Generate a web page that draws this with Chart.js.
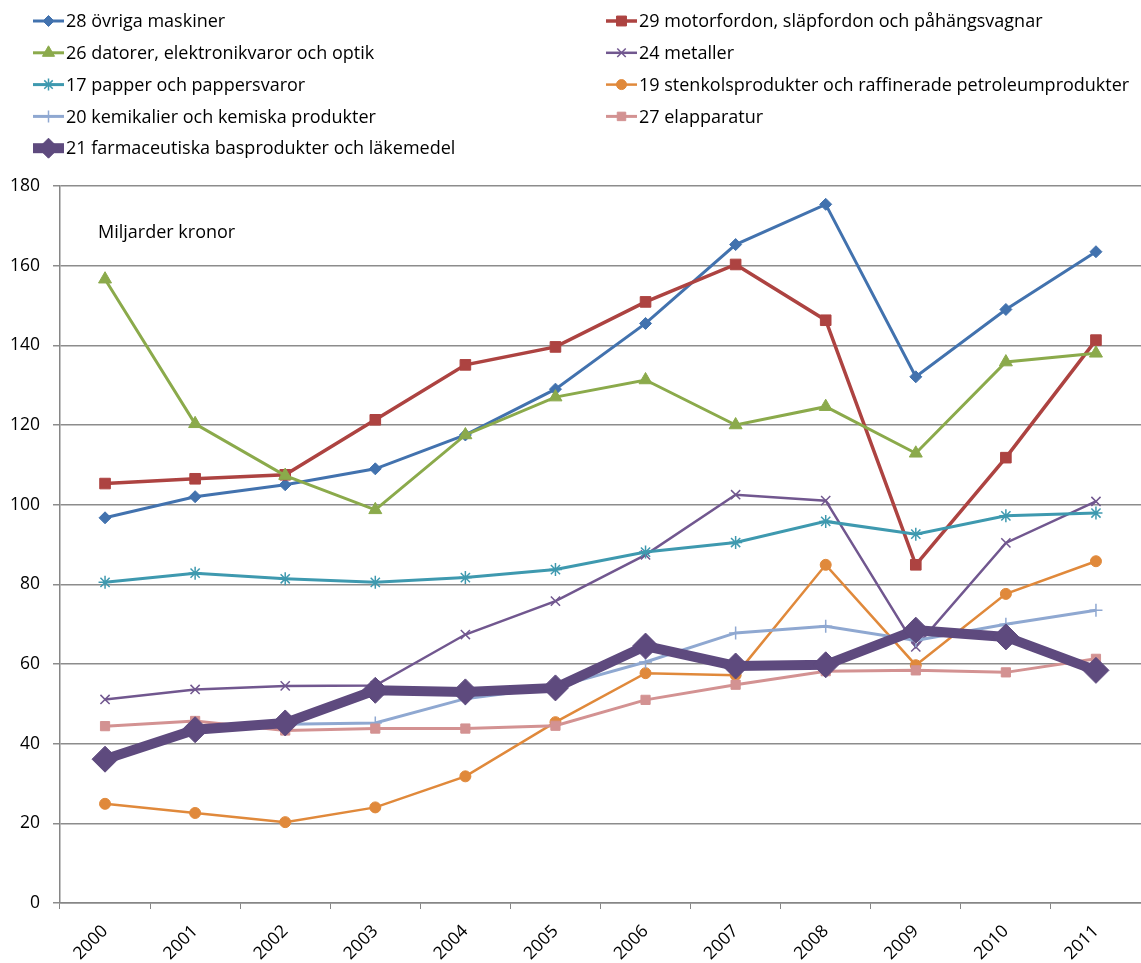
<!DOCTYPE html>
<html>
<head>
<meta charset="utf-8">
<script src="https://cdn.jsdelivr.net/npm/chart.js@4.4.0/dist/chart.umd.min.js"></script>
<style>
  html, body { margin: 0; padding: 0; background: #fff; }
  #wrap { width: 1141px; height: 963px; }
</style>
</head>
<body>
<div id="wrap"><canvas id="lineChart" width="1141" height="963"></canvas></div>
<script>
'use strict';

var years = ['2000','2001','2002','2003','2004','2005','2006','2007','2008','2009','2010','2011'];
var yTicks = [0, 20, 40, 60, 80, 100, 120, 140, 160, 180];

var maskiner   = [96.7, 102.0, 105.0, 109.0, 117.5, 129.0, 145.5, 165.3, 175.4, 132.1, 149.0, 163.5];
var motorfordon= [105.3, 106.5, 107.5, 121.3, 135.1, 139.6, 150.9, 160.3, 146.3, 84.9, 111.8, 141.3];
var datorer    = [156.6, 120.3, 107.3, 98.7, 117.5, 127.0, 131.3, 120.0, 124.6, 112.9, 135.8, 138.0];
var metaller   = [51.1, 53.6, 54.5, 54.6, 67.4, 75.8, 87.4, 102.5, 101.0, 64.3, 90.4, 100.8];
var papper     = [80.5, 82.8, 81.4, 80.5, 81.7, 83.7, 88.1, 90.5, 95.8, 92.6, 97.2, 97.9];
var stenkol    = [24.9, 22.6, 20.3, 24.0, 31.8, 45.4, 57.7, 57.2, 84.9, 59.7, 77.6, 85.8];
var kemikalier = [36.5, 43.8, 44.9, 45.2, 51.3, 54.2, 60.5, 67.8, 69.5, 65.9, 70.0, 73.5];
var elapparatur= [44.4, 45.7, 43.3, 43.8, 43.8, 44.5, 51.0, 54.8, 58.2, 58.4, 57.9, 61.3];
var farmaci    = [36.1, 43.5, 45.2, 53.4, 53.0, 54.0, 64.5, 59.5, 59.8, 68.5, 66.8, 58.4];

// legend layout: col / row in the two-column legend
var series = [
  { label: '28 övriga maskiner', data: maskiner, color: '#4272AE', style: 'rectRot', r: 6, w: 3, col: 0, row: 0 },
  { label: '29 motorfordon, släpfordon och påhängsvagnar', data: motorfordon, color: '#AD4341', style: 'rect', r: 7.5, w: 3.5, col: 1, row: 0 },
  { label: '26 datorer, elektronikvaror och optik', data: datorer, color: '#8BAA4B', style: 'triangle', r: 7.5, w: 3, col: 0, row: 1 },
  { label: '24 metaller', data: metaller, color: '#71578F', style: 'crossRot', r: 6.5, w: 2.5, col: 1, row: 1 },
  { label: '17 papper och pappersvaror', data: papper, color: '#3E99AF', style: 'star', r: 6.5, w: 3, col: 0, row: 2 },
  { label: '19 stenkolsprodukter och raffinerade petroleumprodukter', data: stenkol, color: '#E0893B', style: 'circle', r: 5.5, w: 2.5, col: 1, row: 2 },
  { label: '20 kemikalier och kemiska produkter', data: kemikalier, color: '#8FA8D1', style: 'cross', r: 6.5, w: 3, col: 0, row: 3 },
  { label: '27 elapparatur', data: elapparatur, color: '#D39292', style: 'rect', r: 6.5, w: 3, col: 1, row: 3 },
  { label: '21 farmaceutiska basprodukter och läkemedel', data: farmaci, color: '#5E4A7E', style: 'rectRot', r: 13, w: 10, col: 0, row: 4 }
];

var FONT = '"Open Sans", "Liberation Sans", sans-serif';

function isFilled(style) {
  return style !== 'cross' && style !== 'crossRot' && style !== 'star';
}

var datasets = series.map(function (s, i) {
  return {
    label: s.label,
    data: s.data,
    borderColor: s.color,
    backgroundColor: s.color,
    borderWidth: s.w,
    pointStyle: s.style,
    pointRadius: s.r,
    pointHoverRadius: s.r,
    pointBackgroundColor: s.color,
    pointBorderColor: s.color,
    pointBorderWidth: isFilled(s.style) ? 1 : 1.5,
    tension: 0,
    order: series.length - 1 - i
  };
});

var legendPlugin = {
  id: 'twoColLegend',
  afterDraw: function (chart) {
    var ctx = chart.ctx;
    ctx.save();
    series.forEach(function (s) {
      var x0 = s.col === 0 ? 33 : 606;
      var y = 21 + s.row * 31.8;
      ctx.strokeStyle = s.color;
      ctx.fillStyle = s.color;
      ctx.lineWidth = s.w;
      ctx.beginPath();
      ctx.moveTo(x0, y);
      ctx.lineTo(x0 + 31, y);
      ctx.stroke();
      ctx.lineWidth = isFilled(s.style) ? 1 : 1.5;
      var r = s.r > 10 ? 10 : s.r - 0.5;
      Chart.helpers.drawPoint(ctx, { pointStyle: s.style, rotation: 0, radius: r, borderWidth: ctx.lineWidth }, x0 + 15.5, y);
      ctx.fillStyle = '#000';
      ctx.font = '18px ' + FONT;
      ctx.textBaseline = 'middle';
      ctx.textAlign = 'left';
      ctx.fillText(s.label, x0 + 33, y + 1);
    });
    // unit text inside the plot
    ctx.fillStyle = '#000';
    ctx.font = '18px ' + FONT;
    ctx.textBaseline = 'middle';
    ctx.fillText('Miljarder kronor', 98, 233);
    ctx.restore();
  }
};

new Chart('lineChart', {
  type: 'line',
  data: { labels: years, datasets: datasets },
  options: {
    responsive: false,
    animation: false,
    devicePixelRatio: 1,
    layout: { autoPadding: false, padding: { top: 186, right: 0, left: 0, bottom: 0 } },
    plugins: {
      legend: { display: false },
      tooltip: { enabled: false },
      title: { display: false }
    },
    scales: {
      x: {
        offset: true,
        grid: { display: true, drawOnChartArea: false, drawTicks: true, tickLength: 6, color: '#868686', offset: true },
        border: { display: true, color: '#868686', width: 1.5 },
        ticks: { color: '#000', font: { family: FONT, size: 17.5 }, minRotation: 45, maxRotation: 45, padding: 12 },
        afterFit: function (s) { s.height = 60; s.paddingRight = 0; s.paddingLeft = 0; }
      },
      y: {
        min: 0,
        max: 180,
        afterBuildTicks: function (s) { s.ticks = yTicks.map(function (v) { return { value: v }; }); },
        grid: { color: '#8c8c8c', lineWidth: 1.5, drawTicks: true, tickLength: 7 },
        border: { display: true, color: '#868686', width: 1.5 },
        ticks: { color: '#000', font: { family: FONT, size: 17.5 }, padding: 13 },
        afterFit: function (s) { s.width = 60; s.paddingTop = 0; s.paddingBottom = 0; }
      }
    }
  },
  plugins: [legendPlugin]
});
</script>
</body>
</html>
